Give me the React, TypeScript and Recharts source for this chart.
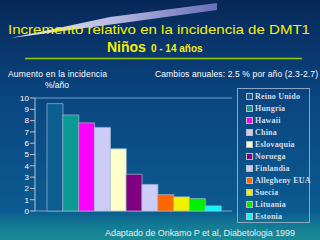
import { BarChart, Bar, XAxis, YAxis, CartesianGrid, Cell, Legend } from "recharts";

const countries = [
    "Reino Unido",
    "Hungria",
    "Hawaii",
    "China",
    "Eslovaquia",
    "Noruega",
    "Finlandia",
    "Allegheny EUA",
    "Suecia",
    "Lituania",
    "Estonia",
];
const increase = [9.5, 8.5, 7.8, 7.4, 5.5, 3.25, 2.35, 1.45, 1.25, 1.1, 0.45];
const yTicks = [0, 1, 2, 3, 4, 5, 6, 7, 8, 9, 10];

const COLORS = [
    "#0b5d92",
    "#0a9a92",
    "#ff00ff",
    "#ccccf6",
    "#ffffcc",
    "#800080",
    "#ccccf6",
    "#ff6600",
    "#f2f200",
    "#00f000",
    "#00ffff",
];

const data = countries.map((name, i) => ({ name, value: increase[i] }));

const SANS = "'Liberation Sans', Arial, sans-serif";

function LegendBox() {
    return (
        <div
            style={{
                boxSizing: "border-box",
                width: 73,
                height: 135,
                border: "1px solid #8ea6c6",
                paddingTop: 1,
                fontFamily: "'Liberation Serif', serif",
                fontSize: 8,
                fontWeight: "bold",
                letterSpacing: 0.2,
                color: "#d4dcea",
                whiteSpace: "nowrap",
            }}
        >
            {countries.map((c, i) => (
                <div key={c} style={{ display: "flex", alignItems: "center", height: 12.1, paddingLeft: 8 }}>
                    <span
                        style={{
                            display: "inline-block",
                            flexShrink: 0,
                            width: 5,
                            height: 5,
                            background: COLORS[i],
                            border: "0.5px solid #bbb",
                            marginRight: 2,
                        }}
                    />
                    {c}
                </div>
            ))}
        </div>
    );
}

export default function App() {
    return (
        <div style={{ position: "absolute", left: 0, top: 0, width: 320, height: 240, overflow: "hidden" }}>
            <svg width={320} height={240} style={{ position: "absolute", left: 0, top: 0 }}>
                <defs>
                    <linearGradient id="bg" x1="0" y1="0" x2="0" y2="1">
                        <stop offset="0" stopColor="#072858" />
                        <stop offset="0.4" stopColor="#0a4580" />
                        <stop offset="0.88" stopColor="#0b5b90" />
                        <stop offset="0.94" stopColor="#137a92" />
                        <stop offset="1" stopColor="#1a8a96" />
                    </linearGradient>
                    <linearGradient id="comet" x1="0" y1="0" x2="1" y2="0">
                        <stop offset="0" stopColor="#ffffff" stopOpacity="0.95" />
                        <stop offset="0.5" stopColor="#c8c8ee" stopOpacity="0.9" />
                        <stop offset="1" stopColor="#7c7cc8" stopOpacity="0.85" />
                    </linearGradient>
                </defs>
                <rect width={320} height={240} fill="url(#bg)" />
                <polygon points="11,38 110,17 217,3 217,10 115,24" fill="url(#comet)" />
                <text
                    x={8}
                    y={34}
                    textLength={302}
                    lengthAdjust="spacingAndGlyphs"
                    fontFamily={SANS}
                    fontSize={13}
                    fill="#f4f000"
                >
                    Incremento relativo en la incidencia de DMT1
                </text>
                <text x={107} y={52} fontFamily={SANS} fontWeight="bold" fill="#f4f000">
                    <tspan fontSize={14}>Niños</tspan>
                    <tspan fontSize={10} dx={5}>0 - 14 años</tspan>
                </text>
                <line x1={25} y1={58.5} x2={302} y2={58.5} stroke="#99cc00" strokeWidth={1.5} />
                <text x={8} y={77} textLength={99} fontFamily={SANS} fontSize={8.5} fill="#ffffff">
                    Aumento en la incidencia
                </text>
                <text x={45} y={88} textLength={24} fontFamily={SANS} fontSize={8.5} fill="#ffffff">
                    %/año
                </text>
                <text x={155} y={77} textLength={163} fontFamily={SANS} fontSize={8.5} fill="#ffffff">
                    Cambios anuales: 2.5 % por año (2.3-2.7)
                </text>
                <text x={105} y={236} textLength={190} fontFamily={SANS} fontSize={9} fill="#e8eef4">
                    Adaptado de Onkamo P et al, Diabetologia 1999
                </text>
            </svg>
            <div style={{ position: "absolute", left: 0, top: 0 }}>
                <BarChart
                    width={320}
                    height={240}
                    data={data}
                    margin={{ top: 98, right: 88, bottom: 29, left: 0 }}
                    barCategoryGap={0}
                    style={{ fontFamily: SANS }}
                >
                    <CartesianGrid vertical={false} stroke="#a6bad2" strokeOpacity={0.75} />
                    <XAxis
                        dataKey="name"
                        tick={false}
                        tickLine={false}
                        height={0}
                        padding={{ left: 12, right: 11 }}
                        axisLine={{ stroke: "#b8c6d8" }}
                    />
                    <YAxis
                        yAxisId="left"
                        width={35}
                        domain={[0, 10]}
                        ticks={yTicks}
                        interval={0}
                        tickSize={5}
                        tickMargin={1}
                        tick={{ fill: "#ffffff", fontSize: 8 }}
                        tickLine={{ stroke: "#b8c6d8" }}
                        axisLine={{ stroke: "#b8c6d8" }}
                    />
                    <YAxis
                        yAxisId="right"
                        orientation="right"
                        width={0}
                        domain={[0, 10]}
                        tick={false}
                        tickLine={false}
                        axisLine={{ stroke: "#a6bad2", strokeOpacity: 0.75 }}
                    />
                    <Legend
                        layout="vertical"
                        align="center"
                        verticalAlign="middle"
                        width={73}
                        height={135}
                        wrapperStyle={{ left: 237, top: 88 }}
                        content={() => <LegendBox />}
                    />
                    <Bar
                        yAxisId="left"
                        dataKey="value"
                        isAnimationActive={false}
                        stroke="#9fb6d0"
                        strokeOpacity={0.7}
                        strokeWidth={1}
                    >
                        {data.map((d, i) => (
                            <Cell key={d.name} fill={COLORS[i]} />
                        ))}
                    </Bar>
                </BarChart>
            </div>
        </div>
    );
}
